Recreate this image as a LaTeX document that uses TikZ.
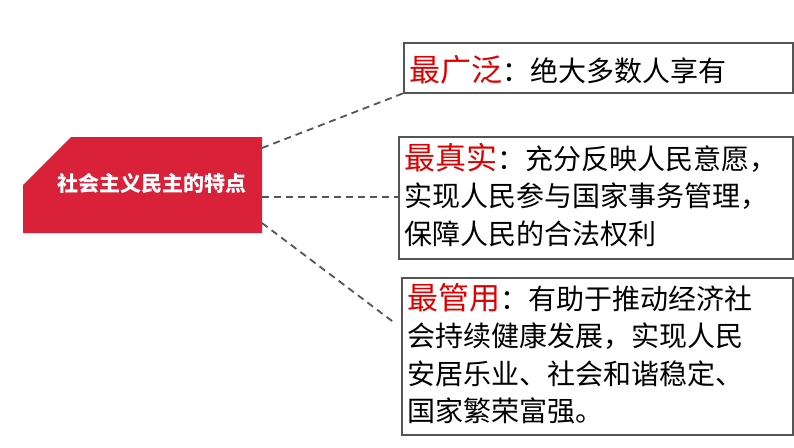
\documentclass[tikz,border=0pt]{standalone}
\usepackage{fontspec}
\setmainfont{Noto Sans CJK SC}
\definecolor{myred}{HTML}{E00000}
\definecolor{boxred}{HTML}{D9213A}
\definecolor{mygray}{HTML}{555555}
\begin{document}
\begin{tikzpicture}[x=1pt,y=-1pt,
  box/.style={draw=mygray,line width=1.6pt},
  conn/.style={draw=mygray,line width=1.8pt,dash pattern=on 7pt off 5pt},
  txt/.style={anchor=north west,align=left,inner sep=0pt,font=\fontsize{28}{37.5}\selectfont}]
\useasboundingbox (0,0) rectangle (794,447);
\fill[boxred] (23,185) -- (71,137) -- (262,137) -- (262,233) -- (23,233) -- cycle;
\node[text=white,font=\fontsize{21}{24}\selectfont\bfseries] (main) at (152,183) {社会主义民主的特点};
\coordinate (m1) at (262,148);
\coordinate (m2) at (262,197);
\coordinate (m3) at (262,223);
\draw[box] (404,43) rectangle (793,93);
\draw[box] (399,137) rectangle (793,259);
\draw[box] (402,278) rectangle (793,435);
\coordinate (b1) at (404,93);
\coordinate (b2) at (399,197);
\coordinate (b3) at (396,324);
\draw[conn] (m1) -- (b1);
\draw[conn] (m2) -- (b2);
\draw[conn] (m3) -- (b3);
\newcommand{\hlt}[1]{{\color{myred}\fontsize{31}{37.5}\selectfont #1}}
\node[txt,anchor=west] (t1) at (409,70) {\hlt{最广泛}：绝大多数人享有};
\node[txt] (t2) at (404,143) {\hlt{最真实}：充分反映人民意愿，\\实现人民参与国家事务管理，\\保障人民的合法权利};
\node[txt] (t3) at (407,283) {\hlt{最管用}：有助于推动经济社\\会持续健康发展，实现人民\\安居乐业、社会和谐稳定、\\国家繁荣富强。};
\end{tikzpicture}
\end{document}
